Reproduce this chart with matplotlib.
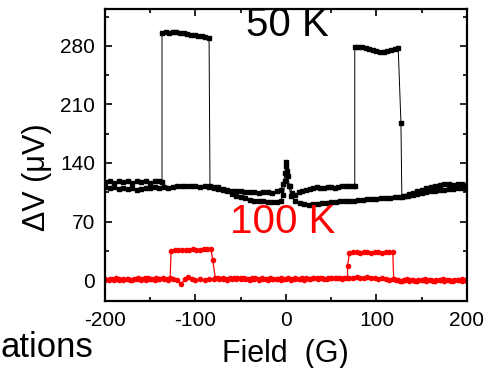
import numpy as np
import matplotlib
matplotlib.use("Agg")
import matplotlib.pyplot as plt

plt.rcParams["font.family"] = ["Liberation Sans", "DejaVu Sans"]
plt.rcParams["axes.unicode_minus"] = False

# 50 K, sweep with the left plateau (fields in G, signal in uV)
field_50a = [-200, -195, -190, -185, -180, -175, -170, -165, -160, -155, -150, -145, -140, -137,
             -137, -133, -129, -125, -121, -117, -113, -109, -105, -101, -97, -93, -89, -85,
             -84, -80, -75, -70, -65, -60, -55, -50, -45, -40, -35, -30, -25, -20, -15, -10, -6, -3, -1, 0,
             2, 4, 7, 10, 14, 18, 22, 26, 30, 34, 38, 42, 46, 50, 54, 58, 62, 66, 70, 74, 76,
             76, 80, 84, 88, 92, 96, 100, 104, 108, 112, 116, 120, 124,
             127, 128, 132, 136, 140, 145, 150, 155, 160, 165, 170, 175, 180, 185, 190, 195, 200]
dv_50a = [117, 118, 116, 118, 117, 118, 116, 118, 117, 118, 116, 118, 118, 117,
          295, 296, 295, 296, 296, 295, 295, 294, 293, 293, 292, 292, 291, 289,
          112, 111, 111, 109, 106, 103, 101, 99, 98, 96, 95, 94, 94, 93, 93, 93, 95, 102, 118, 136,
          124, 112, 104, 102, 105, 107, 108, 109, 110, 111, 110, 110, 111, 111, 110, 111, 112, 112, 112, 112, 112,
          279, 279, 278, 277, 276, 275, 274, 273, 273, 274, 275, 276, 277,
          188, 99, 101, 103, 104, 106, 108, 110, 111, 113, 114, 115, 115, 114, 115, 115, 114]

# 50 K, other sweep
field_50b = [-200, -195, -190, -185, -180, -175, -170, -165, -160, -155, -150, -145, -140, -135, -130,
             -125, -120, -115, -110, -105, -100, -95, -90, -85, -80, -75, -70, -65, -60, -55, -50, -45,
             -40, -35, -30, -25, -20, -15, -10, -6, -3, -1, 0, 1, 3, 6, 10, 15, 20, 25, 30, 35, 40, 45,
             50, 55, 60, 65, 70, 75, 80, 85, 90, 95, 100, 105, 110, 115, 120, 125, 130, 135, 140, 145,
             150, 155, 160, 165, 170, 175, 180, 185, 190, 195, 200]
dv_50b = [111, 110, 111, 109, 110, 109, 110, 108, 109, 110, 110, 111, 110, 111, 110,
          111, 112, 112, 113, 112, 112, 111, 112, 111, 110, 109, 108, 108, 107, 106, 106, 105,
          105, 105, 104, 105, 105, 104, 106, 108, 115, 128, 141, 130, 112, 100, 95, 92, 91, 90, 91, 91, 92, 92,
          93, 93, 94, 94, 95, 95, 96, 96, 97, 97, 97, 98, 98, 98, 99, 99, 100, 101, 102, 103,
          104, 105, 106, 107, 108, 108, 109, 109, 110, 110, 109]

# 100 K, sweep with the left plateau
field_100a = [-200, -196, -192, -188, -184, -180, -176, -172, -168, -164, -160, -156, -152, -148, -144,
              -140, -136, -132, -128, -127, -123, -119, -115, -111, -107, -103, -99, -95, -91, -87, -83,
              -81, -78, -74, -70, -66, -62, -58, -54, -50, -46, -42, -38, -34, -30, -26, -22, -18, -14,
              -10, -6, -2, 2, 6, 10, 14, 18, 22, 26, 30, 34, 38, 42, 46, 50, 54, 58, 62, 66, 70, 74, 78,
              82, 86, 90, 94, 98, 102, 106, 110, 114, 118, 122, 126, 130, 134, 138, 142, 146, 150, 154,
              158, 162, 166, 170, 174, 178, 182, 186, 190, 194, 198, 200]
dv_100a = [1, 0, 1, 2, 0, 1, 1, 0, 1, 2, 1, 3, 2, 1, 2,
           1, 2, 1, 2, 35, 36, 36, 36, 36, 36, 37, 36, 36, 37, 37, 37,
           24, 2, 1, 2, 1, 2, 3, 2, 1, 2, 1, 2, 2, 1, 2, 1, 2, 1,
           1, 2, 1, 2, 1, 2, 1, 2, 2, 1, 2, 3, 2, 1, 2, 2, 3, 2, 1, 2, 3, 2, 4,
           3, 2, 4, 3, 2, 1, 2, 1, 0, 1, 0, -1, 0, 1, 0, -1, 0, 0, 1,
           0, -1, 0, 0, 1, 0, -1, 0, 0, 1, 0, -1]

# 100 K, other sweep
field_100b = [-200, -195, -190, -185, -180, -175, -170, -165, -160, -155, -150, -145, -140, -135, -130,
              -125, -120, -116, -112, -108, -104, -100, -95, -90, -85, -80, -75, -70, -65, -60, -55, -50,
              -45, -40, -35, -30, -25, -20, -15, -10, -5, 0, 5, 10, 15, 20, 25, 30, 35, 40, 45, 50, 55,
              60, 64, 68, 68, 70, 74, 78, 82, 86, 90, 94, 98, 102, 106, 110, 114, 118, 119, 124, 128,
              132, 136, 140, 145, 150, 155, 160, 165, 170, 175, 180, 185, 190, 195, 200]
dv_100b = [0, 1, 0, 1, 0, 1, 0, 1, 0, 0, 1, 0, 1, 1, 0,
           1, 0, -5, 1, 4, 1, 0, 1, 0, 1, 1, 2, 1, 0, 1, 1, 2,
           1, 0, 1, 0, 1, 0, 1, 1, 0, 1, 0, 1, 1, 0, 1, 2, 1, 2, 1, 2, 2,
           2, 3, 2, 17, 32, 33, 33, 32, 33, 33, 32, 33, 33, 32, 33, 33, 33, 1, 0, -1,
           0, -1, 0, -1, 0, -1, 0, -1, 0, -1, 0, -1, 0, -1, -1]

fig = plt.figure(figsize=(4.89, 3.68), dpi=100)
ax = fig.add_axes([105 / 489, 67 / 368, 362 / 489, 292 / 368])

ax.plot(field_50a, dv_50a, color="black", lw=0.7, marker="s", ms=3.0, mec="black", mfc="black")
ax.plot(field_50b, dv_50b, color="black", lw=0.7, marker="s", ms=3.0, mec="black", mfc="black")
ax.plot(field_100a, dv_100a, color="red", lw=0.9, marker="o", ms=3.0, mec="red", mfc="red")
ax.plot(field_100b, dv_100b, color="red", lw=0.9, marker="o", ms=3.0, mec="red", mfc="red")

ax.set_xlim(-200, 200)
ax.set_ylim(-25, 324)
ax.set_xticks([-200, -100, 0, 100, 200])
ax.set_xticks(np.arange(-150, 200, 100), minor=True)
ax.set_yticks([0, 70, 140, 210, 280])
ax.set_yticks([35, 105, 175, 245, 315], minor=True)
ax.tick_params(which="both", direction="in", top=True, right=True, width=1.2, labelsize=15, pad=7)
ax.tick_params(which="major", length=5)
ax.tick_params(which="minor", length=3)
for s in ax.spines.values():
    s.set_linewidth(1.6)

fig.text(246 / 489, 1 - 36 / 368, "50 K", fontsize=29, color="black", ha="left", va="baseline")
fig.text(230 / 489, 1 - 233 / 368, "100 K", fontsize=29, color="red", ha="left", va="baseline")
fig.text(37 / 489, 1 - 177 / 368, "ΔV (μV)", fontsize=22, rotation=90, ha="center", va="center")
fig.text(285 / 489, 1 - 362 / 368, "Field  (G)", fontsize=22, ha="center", va="baseline")
fig.text(93 / 489, 1 - 357 / 368, "ations", fontsize=25, ha="right", va="baseline")

fig.savefig("out.png", dpi=100)
